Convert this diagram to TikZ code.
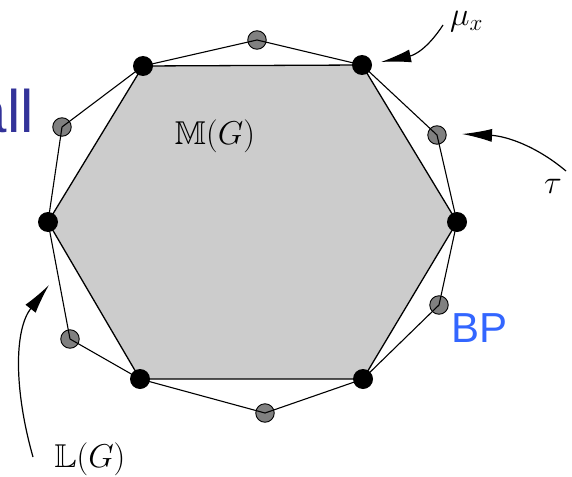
\RequirePackage{fix-cm}
\documentclass[tikz,border=0pt]{standalone}
\usepackage{amssymb}
\usepackage[no-math]{fontspec}
\newfontfamily\labelsans{Liberation Sans}
\usetikzlibrary{arrows.meta}
\definecolor{allblue}{HTML}{333399}
\definecolor{bpblue}{HTML}{3366FF}
\definecolor{hexgray}{HTML}{CCCCCC}
\definecolor{dotgray}{HTML}{808080}
\tikzset{
  blackdot/.style={circle,fill=black,inner sep=0pt,minimum size=20pt},
  graydot/.style={circle,draw=black,fill=dotgray,line width=0.9pt,inner sep=0pt,minimum size=18.5pt},
  pointer/.style={line width=1.2pt,-{Latex[length=30pt,width=13pt]}},
  mathlabel/.style={inner sep=0pt,font=\fontsize{33}{40}\selectfont},
}
\begin{document}
\begin{tikzpicture}[x=1pt,y=-1pt]
\useasboundingbox (0,0) rectangle (572,476);
% coordinates
\coordinate (h1) at (143,66);
\coordinate (h2) at (362,65);
\coordinate (h3) at (457,222);
\coordinate (h4) at (363,379);
\coordinate (h5) at (140,379);
\coordinate (h6) at (48,222);
\coordinate (g1) at (257,40);
\coordinate (g2) at (437,135);
\coordinate (g3) at (439,305);
\coordinate (g4) at (265,413);
\coordinate (g5) at (70,339);
\coordinate (g6) at (62,127);
% hexagon
\draw[fill=hexgray,line width=1.3pt] (h1) -- (h2) -- (h3) -- (h4) -- (h5) -- (h6) -- cycle;
% gray dots
\foreach \g in {g1,g2,g3,g4,g5,g6} \node[graydot] (d\g) at (\g) {};
% outer polygon
\draw[line width=1.1pt,line join=round] (h1) -- (g1) -- (h2) -- (g2) -- (h3) -- (g3) -- (h4) -- (g4) -- (h5) -- (g5) -- (h6) -- (g6) -- cycle;
% black dots
\foreach \h in {h1,h2,h3,h4,h5,h6} \node[blackdot] (d\h) at (\h) {};
% labels
\node[mathlabel] (M) at (215,136) {$\mathbb{M}(G)$};
\node[mathlabel] (L) at (90,459) {$\mathbb{L}(G)$};
\node[mathlabel,anchor=west] (mu) at (450,22) {$\mu_x$};
\node[mathlabel] (tau) at (553,186) {$\tau$};
\node[anchor=base east,inner sep=0pt,text=allblue,font=\labelsans\fontsize{60}{70}\selectfont] (all) at (34,132) {all};
\node[anchor=base west,inner sep=0pt,text=bpblue,font=\labelsans\fontsize{42}{50}\selectfont] (bp) at (451,342) {BP};
% pointers
\coordinate (mus) at (443,25);
\coordinate (mut) at (381,62);
\draw[pointer] (mus) .. controls (428,48) and (415,55) .. (mut);
\coordinate (taus) at (566,171);
\coordinate (taut) at (462,134);
\draw[pointer] (taus) .. controls (535,145) and (505,136) .. (taut);
\coordinate (ls) at (33,457);
\coordinate (lt) at (49,285);
\draw[pointer] (ls) .. controls (14,390) and (14,330) .. (lt);
\end{tikzpicture}
\end{document}
